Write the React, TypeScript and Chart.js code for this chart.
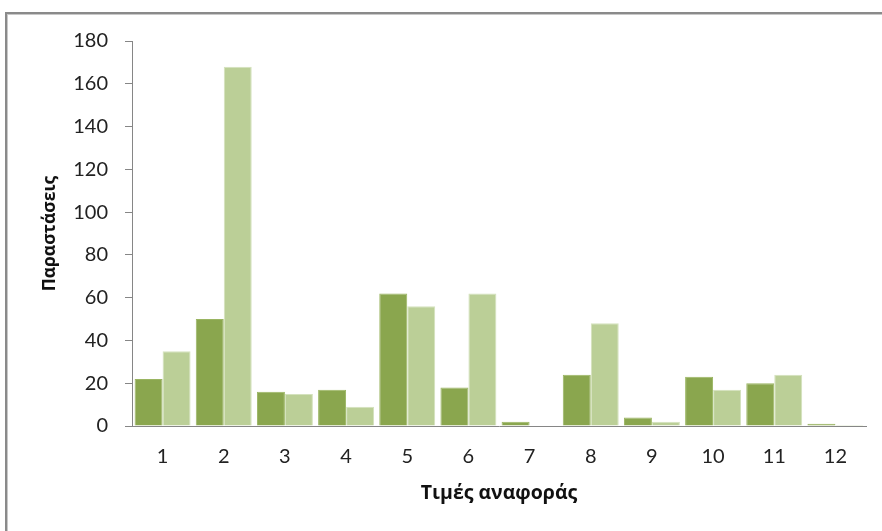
import React, { useEffect, useRef } from "react";
import { Chart, registerables } from "chart.js";

Chart.register(...registerables);

const categories = ["1", "2", "3", "4", "5", "6", "7", "8", "9", "10", "11", "12"];
const seriesDark = [22, 50, 16, 17, 62, 18, 2, 24, 4, 23, 20, 1];
const seriesLight = [35, 168, 15, 9, 56, 62, 0, 48, 2, 17, 24, 0.5];
const yTitle = "Παραστάσεις";
const xTitle = "Τιμές αναφοράς";

const framePlugin = {
  id: "frame",
  beforeDraw(chart: any) {
    const ctx = chart.ctx;
    ctx.save();
    ctx.fillStyle = "#ffffff";
    ctx.fillRect(0, 0, chart.width, chart.height);
    ctx.fillStyle = "#8a8a8a";
    ctx.fillRect(5, 12, chart.width, 2);
    ctx.fillRect(5, 12, 2, chart.height);
    ctx.fillStyle = "#c8c8c8";
    ctx.fillRect(7, 14, chart.width, 1);
    ctx.fillRect(7, 14, 1, chart.height);
    ctx.restore();
  },
};

export default function App() {
  const ref = useRef<HTMLCanvasElement>(null);
  useEffect(() => {
    if (!ref.current) return;
    const axisColor = "#868686";
    const chart = new Chart(ref.current, {
      type: "bar",
      data: {
        labels: categories,
        datasets: [
          {
            data: seriesDark,
            backgroundColor: "#8aa64e",
            borderColor: "#9ab562",
            borderWidth: 1,
            categoryPercentage: 0.915,
            barPercentage: 1,
          },
          {
            data: seriesLight,
            backgroundColor: "#bbcf97",
            borderColor: "#d4e2bd",
            borderWidth: 1,
            categoryPercentage: 0.915,
            barPercentage: 1,
          },
        ],
      },
      options: {
        responsive: false,
        animation: false,
        devicePixelRatio: 1,
        layout: { padding: { top: 41, right: 16, left: 0, bottom: 0 } },
        plugins: {
          legend: { display: false },
          tooltip: { enabled: false },
        },
        scales: {
          x: {
            grid: { drawOnChartArea: false, drawTicks: false },
            border: { display: true, color: axisColor, width: 1 },
            ticks: {
              color: "#222",
              padding: 19,
              font: { family: "Lato, 'Noto Sans'", size: 20 },
            },
            title: {
              display: true,
              text: xTitle,
              color: "#111",
              padding: { top: 0, bottom: 26 },
              font: { family: "'Open Sans', 'Noto Sans'", size: 19.5, weight: "bold" },
            },
            afterFit(scale: any) {
              scale.height = 105;
            },
          },
          y: {
            min: 0,
            max: 180,
            ticks: {
              stepSize: 20,
              color: "#222",
              padding: 17,
              font: { family: "Lato, 'Noto Sans'", size: 20 },
            },
            grid: { drawOnChartArea: false, drawTicks: true, tickLength: 7, color: axisColor },
            border: { display: true, color: axisColor, width: 1 },
            title: {
              display: true,
              text: yTitle,
              color: "#111",
              padding: { top: 40, bottom: 0 },
              font: { family: "'Open Sans', 'Noto Sans'", size: 17.5, weight: "bold" },
            },
            afterFit(scale: any) {
              scale.width = 132;
            },
          },
        },
      },
      plugins: [framePlugin],
    });
    return () => chart.destroy();
  }, []);
  return (
    <div style={{ position: "fixed", left: 0, top: 0, width: 882, height: 531, overflow: "hidden" }}>
      <canvas ref={ref} width={882} height={531} style={{ display: "block" }} />
    </div>
  );
}
